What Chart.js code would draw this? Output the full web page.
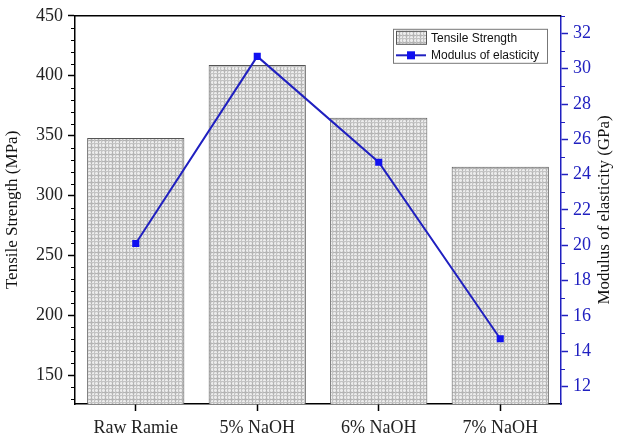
<!DOCTYPE html>
<html lang="en">
<head>
    <meta charset="UTF-8">
    <title>Tensile Strength and Modulus of Elasticity</title>
    <script src="https://cdn.jsdelivr.net/npm/chart.js"></script>
    <style>
        body {
            margin: 0;
            padding: 0;
            background: #ffffff;
        }
        #wrap {
            width: 622px;
            height: 440px;
        }
    </style>
</head>
<body>
    <div id="wrap"><canvas id="chart" width="622" height="440"></canvas></div>

    <script>
        const categories = ["Raw Ramie", "5% NaOH", "6% NaOH", "7% NaOH"];
        const tensile = [348, 409, 365, 324];
        const modulus = [20.1, 30.7, 24.7, 14.7];
        const leftTicks = [150, 200, 250, 300, 350, 400, 450];
        const rightTicks = [12, 14, 16, 18, 20, 22, 24, 26, 28, 30, 32];

        const serif = "'Liberation Serif', 'DejaVu Serif', serif";
        const sans = "'Liberation Sans', Arial, sans-serif";
        const blue = '#2020c0';

        // light grey plaid fill for the bars
        function makePattern() {
            const c = document.createElement('canvas');
            c.width = 14;
            c.height = 14;
            const g = c.getContext('2d');
            g.fillStyle = '#d8d8d8';
            g.fillRect(0, 0, 14, 14);
            g.fillStyle = '#ececec';
            [2, 5, 9, 12].forEach(p => {
                g.fillRect(p, 0, 1, 14);
                g.fillRect(0, p, 14, 1);
            });
            g.fillStyle = '#b4b4b4';
            [0, 7].forEach(p => {
                g.fillRect(p, 0, 1, 14);
                g.fillRect(0, p, 14, 1);
            });
            g.fillStyle = '#c4c4c4';
            [3, 10].forEach(p => {
                g.fillRect(p, 0, 1, 14);
                g.fillRect(0, p, 14, 1);
            });
            return g.createPattern(c, 'repeat');
        }
        const ctx = document.getElementById('chart').getContext('2d');
        const hatch = makePattern();

        const extras = {
            id: 'extras',
            afterDraw(chart) {
                const c = chart.ctx;
                const area = chart.chartArea;
                const y = chart.scales.y;
                const y1 = chart.scales.y1;
                c.save();

                // top frame line
                c.strokeStyle = '#000';
                c.lineWidth = 1.5;
                c.beginPath();
                c.moveTo(area.left, area.top);
                c.lineTo(area.right, area.top);
                c.stroke();

                // minor ticks
                c.lineWidth = 1;
                c.beginPath();
                for (let v = 130; v < 450; v += 10) {
                    if (v % 50 === 0) continue;
                    const py = Math.round(y.getPixelForValue(v)) + 0.5;
                    c.moveTo(area.left - 4, py);
                    c.lineTo(area.left, py);
                }
                c.stroke();
                c.strokeStyle = blue;
                c.beginPath();
                for (let v = 13; v <= 33; v += 2) {
                    const py = Math.round(y1.getPixelForValue(v)) + 0.5;
                    c.moveTo(area.right, py);
                    c.lineTo(area.right + 4, py);
                }
                c.stroke();

                // right axis title, reading bottom to top
                c.fillStyle = '#111';
                c.font = '17px ' + serif;
                c.textAlign = 'center';
                c.textBaseline = 'middle';
                c.translate(605, (area.top + area.bottom) / 2);
                c.rotate(-Math.PI / 2);
                c.fillText('Modulus of elasticity (GPa)', 0, 0);
                c.setTransform(1, 0, 0, 1, 0, 0);

                // legend
                const lx = area.right - 168, ly = area.top + 13;
                c.fillStyle = '#fff';
                c.fillRect(lx, ly, 154, 34);
                c.strokeStyle = '#777';
                c.lineWidth = 1;
                c.strokeRect(lx + 0.5, ly + 0.5, 154, 34);
                c.fillStyle = hatch;
                c.fillRect(lx + 3, ly + 2, 30, 13);
                c.strokeStyle = '#555';
                c.strokeRect(lx + 3.5, ly + 2.5, 30, 13);
                c.strokeStyle = blue;
                c.lineWidth = 2;
                c.beginPath();
                c.moveTo(lx + 3, ly + 26.5);
                c.lineTo(lx + 33, ly + 26.5);
                c.stroke();
                c.fillStyle = '#1010f0';
                c.fillRect(lx + 14, ly + 22.5, 8, 8);
                c.fillStyle = '#111';
                c.font = '12px ' + sans;
                c.textAlign = 'left';
                c.textBaseline = 'middle';
                c.fillText(chart.data.datasets[1].label, lx + 38, ly + 9.5);
                c.fillText(chart.data.datasets[0].label, lx + 38, ly + 26.5);
                c.restore();
            }
        };

        new Chart(ctx, {
            type: 'bar',
            data: {
                labels: categories,
                datasets: [{
                    type: 'line',
                    label: 'Modulus of elasticity',
                    data: modulus,
                    yAxisID: 'y1',
                    borderColor: blue,
                    borderWidth: 2,
                    pointStyle: 'rect',
                    pointRadius: 5,
                    pointBackgroundColor: '#1010f0',
                    pointBorderColor: '#1010f0',
                    pointBorderWidth: 0,
                    tension: 0,
                    order: 0
                }, {
                    label: 'Tensile Strength',
                    data: tensile,
                    yAxisID: 'y',
                    backgroundColor: hatch,
                    borderColor: '#555',
                    borderWidth: 1,
                    borderSkipped: false,
                    barPercentage: 1,
                    categoryPercentage: 0.8,
                    order: 1
                }]
            },
            options: {
                responsive: false,
                animation: false,
                layout: { padding: { top: 14, left: 0, right: 0, bottom: 0 } },
                plugins: {
                    legend: { display: false },
                    tooltip: { enabled: false }
                },
                scales: {
                    x: {
                        grid: { drawOnChartArea: false, offset: false, tickLength: 7, tickColor: '#000', tickWidth: 1.5 },
                        border: { color: '#000', width: 1.5 },
                        ticks: { color: '#222', font: { family: serif, size: 18 }, padding: 6 },
                        afterFit(s) { s.height = 36; }
                    },
                    y: {
                        position: 'left',
                        min: 126,
                        max: 450,
                        afterBuildTicks(s) { s.ticks = leftTicks.map(v => ({ value: v })); },
                        grid: { drawOnChartArea: false, tickLength: 7, tickColor: '#000', tickWidth: 1.5 },
                        border: { color: '#000', width: 1.5 },
                        ticks: { color: '#222', font: { family: serif, size: 18 }, padding: 5 },
                        title: {
                            display: true,
                            text: 'Tensile Strength (MPa)',
                            color: '#111',
                            font: { family: serif, size: 17 },
                            padding: { top: 2, bottom: 0 }
                        },
                        afterFit(s) { s.width = 75; }
                    },
                    y1: {
                        position: 'right',
                        min: 11,
                        max: 33,
                        afterBuildTicks(s) { s.ticks = rightTicks.map(v => ({ value: v })); },
                        grid: { drawOnChartArea: false, tickLength: 7, tickColor: blue, tickWidth: 1.5 },
                        border: { color: blue, width: 1.5 },
                        ticks: { color: blue, font: { family: serif, size: 18 }, padding: 5 },
                        afterFit(s) { s.width = 61; }
                    }
                }
            },
            plugins: [extras]
        });
    </script>
</body>
</html>
